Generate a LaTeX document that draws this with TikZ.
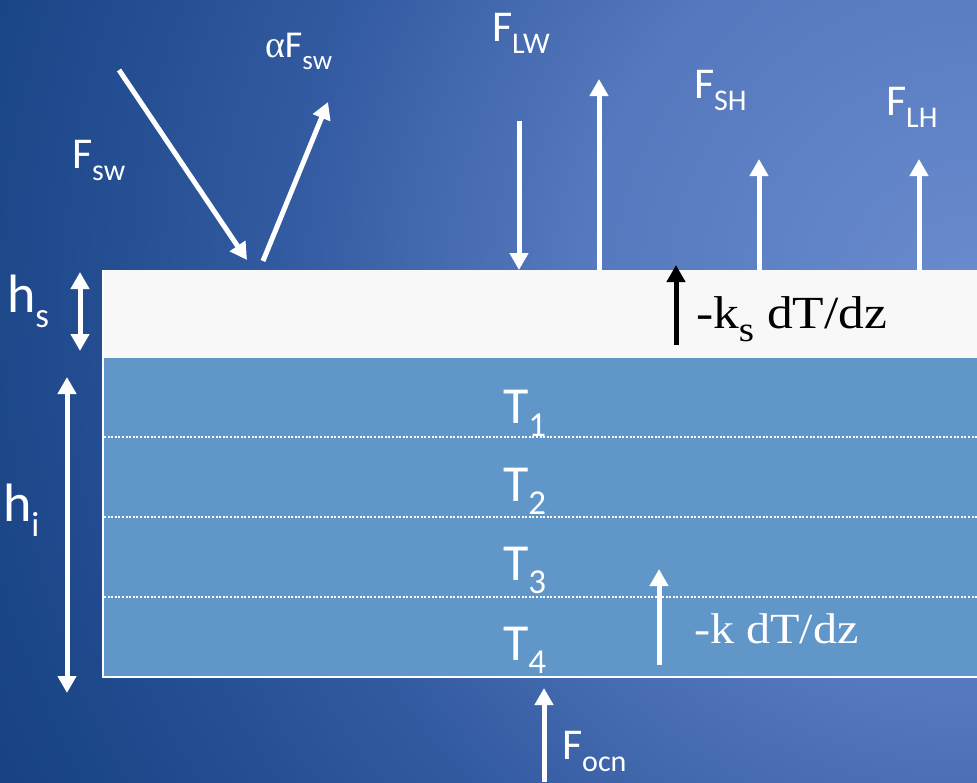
\documentclass[tikz,border=0pt]{standalone}
\usepackage{fontspec}
\setmainfont{Carlito}
\newfontfamily\serifk{Liberation Serif}
\usetikzlibrary{arrows.meta}
\definecolor{bglight}{RGB}{106,140,206}
\definecolor{bgmid}{RGB}{85,120,190}
\definecolor{bgmid2}{RGB}{50,90,160}
\definecolor{bgdark}{RGB}{27,70,136}
\definecolor{bgdarker}{RGB}{22,64,128}
\definecolor{icefill}{RGB}{97,150,200}
\definecolor{snowfill}{RGB}{248,248,248}
\pgfdeclareradialshading{bgsh}{\pgfpoint{0bp}{0bp}}{color(0bp)=(bglight); color(10bp)=(bgmid); color(17.5bp)=(bgmid2); color(25bp)=(bgdark); color(28bp)=(bgdarker); color(50bp)=(bgdarker)}
\newcommand\subt[3]{\raisebox{-#1pt}{\fontsize{#2}{#2}\selectfont #3}}
\newcommand\Flab[1]{\fontsize{44}{44}\selectfont F\subt{12}{30}{#1}}
\newcommand\Tlab[1]{\fontsize{52}{52}\selectfont T\subt{13}{35}{#1}}
\newcommand\Hlab[1]{\fontsize{54}{54}\selectfont h\subt{15}{35}{#1}}
\tikzset{
  lbl/.style={text=white, anchor=base west, inner sep=0pt, outer sep=0pt},
  warr/.style={draw=white, line width=5pt, -{Triangle[width=18pt,length=17pt]}},
  barr/.style={draw=black, line width=5pt, -{Triangle[width=18pt,length=17pt]}},
  dbl/.style={draw=white, line width=5pt, {Triangle[width=18pt,length=17pt]}-{Triangle[width=18pt,length=17pt]}},
  layerline/.style={draw=white, line width=1.5pt, dash pattern=on 2pt off 1.6pt}
}
\begin{document}
\begin{tikzpicture}[x=1pt,y=-1pt]
\useasboundingbox (0,0) rectangle (977,782);
\begin{scope}
\clip (0,0) rectangle (977,782);
\fill[bgdarker] (0,0) rectangle (977,782);
\shade[shading=bgsh] (-23,-700) rectangle (1977,1300);
\end{scope}
% snow and ice
\fill[snowfill] (103,270) rectangle (980,358);
\fill[icefill] (103,358) rectangle (980,677);
\draw[white, line width=2pt] (103,270) -- (103,677) -- (980,677);
\draw[layerline] (104,437) -- (977,437);
\draw[layerline] (104,517) -- (977,517);
\draw[layerline] (104,597) -- (977,597);
% coordinates
\coordinate (swS) at (119,70);
\coordinate (swE) at (247,260);
\coordinate (alS) at (263,261);
\coordinate (alE) at (328,102);
\coordinate (lwdS) at (519,121);
\coordinate (lwdE) at (519,270);
\coordinate (lwuS) at (599,270);
\coordinate (lwuE) at (599,79);
\coordinate (shS) at (759,270);
\coordinate (shE) at (759,159);
\coordinate (lhS) at (919,270);
\coordinate (lhE) at (919,159);
\coordinate (ksS) at (676,345);
\coordinate (ksE) at (676,265);
\coordinate (kS) at (659,665);
\coordinate (kE) at (659,569);
\coordinate (ocS) at (544,782);
\coordinate (ocE) at (544,688);
\coordinate (hsA) at (80,272);
\coordinate (hsB) at (80,351);
\coordinate (hiA) at (67,377);
\coordinate (hiB) at (67,693);
% arrows
\draw[warr] (swS) -- (swE);
\draw[warr] (alS) -- (alE);
\draw[warr] (lwdS) -- (lwdE);
\draw[warr] (lwuS) -- (lwuE);
\draw[warr] (shS) -- (shE);
\draw[warr] (lhS) -- (lhE);
\draw[barr] (ksS) -- (ksE);
\draw[warr] (kS) -- (kE);
\draw[warr] (ocS) -- (ocE);
\draw[dbl] (hsA) -- (hsB);
\draw[dbl] (hiA) -- (hiB);
% labels
\node[lbl] (Fsw) at (72,168) {\Flab{sw}};
\node[lbl] (aFsw) at (265,57) {\fontsize{38}{38}\selectfont{\serifk α}F\subt{12}{27}{sw}};
\node[lbl] (Flw) at (492,41) {\Flab{LW}};
\node[lbl] (Fsh) at (694,98) {\Flab{SH}};
\node[lbl] (Flh) at (886,115) {\Flab{LH}};
\node[lbl] (Focn) at (562,759) {\Flab{ocn}};
\node[lbl] (hs) at (7,312) {\Hlab{s}};
\node[lbl] (hi) at (3,521) {\Hlab{i}};
\node[lbl] (T1) at (503,423) {\Tlab{1}};
\node[lbl] (T2) at (503,501) {\Tlab{2}};
\node[lbl] (T3) at (503,580) {\Tlab{3}};
\node[lbl] (T4) at (503,660) {\Tlab{4}};
\node[lbl, text=black] (ks) at (696,328) {\serifk\scalebox{1.12}[1]{\fontsize{46}{46}\selectfont -k\subt{13}{35}{s} dT/dz}};
\node[lbl] (kk) at (694,643) {\serifk\scalebox{1.12}[1]{\fontsize{43}{43}\selectfont -k dT/dz}};
\end{tikzpicture}
\end{document}
